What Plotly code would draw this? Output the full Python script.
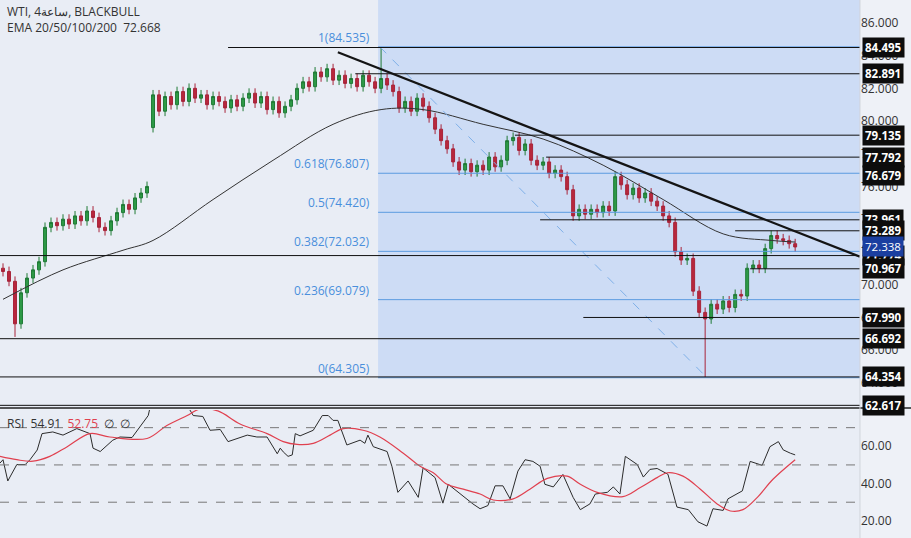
import plotly.graph_objects as go

# candle closes, one per 4h bar
closes = [70.8, 70.2, 67.6, 69.5, 70.4, 70.9, 71.4, 73.5, 73.8, 73.6,
          74.0, 73.7, 74.2, 73.9, 74.5, 74.1, 73.5, 73.3, 73.9, 74.4,
          74.9, 74.6, 75.3, 75.6, 76.0, 81.6, 80.6, 81.5, 81.0, 81.8,
          81.2, 82.0, 81.4, 81.6, 81.0, 81.5, 81.2, 80.8, 81.3, 80.9,
          81.4, 81.7, 81.1, 81.5, 80.7, 81.2, 80.5, 80.9, 81.3, 82.0,
          82.4, 82.1, 83.0, 82.7, 83.2, 82.5, 82.8, 82.3, 82.6, 82.1,
          82.8, 82.4, 82.0, 82.6, 82.2, 81.8, 80.8, 81.2, 80.6, 81.4,
          80.9, 80.2, 79.5, 78.8, 78.3, 77.5, 77.0, 77.4, 76.9, 77.3,
          77.0, 77.8, 77.2, 77.6, 78.8, 79.0, 78.2, 78.6, 77.6, 77.3,
          77.5, 76.8, 77.0, 76.6, 75.8, 74.2, 74.6, 74.3, 74.6, 74.4,
          74.8, 74.5, 76.6, 76.1, 75.5, 75.9, 75.3, 75.6, 75.1, 74.8,
          74.2, 73.8, 72.0, 71.5, 71.6, 69.6, 68.3, 67.9, 68.8, 68.5,
          69.0, 68.6, 69.4, 69.3, 71.0, 71.2, 71.0, 72.2, 73.0, 72.8,
          72.7, 72.5, 72.3]
gap_opens = {0: 71.0, 25: 79.6}
wick = 0.3
wick_highs = {63: 84.5, 25: 81.9}
wick_lows = {117: 64.35, 2: 66.8}

ema_bar = [0, 10, 20, 25, 35, 45, 55, 63, 70, 80, 90, 100, 110, 120, 128, 132]
ema_val = [69.1, 70.9, 72.1, 72.7, 75.2, 77.6, 79.8, 80.7, 80.7, 79.8, 78.9, 77.3, 75.2, 73.1, 72.7, 72.6]

rsi_bar = [-0.5, 0, 0.8, 2.3, 3.7, 4.5, 5.7, 6.5, 8.3, 10, 12.3, 14.5, 15, 16.2, 18.3, 19.5, 21.5, 22.8,
           24.2, 24.8, 27.8, 30.3, 31.7, 33.3, 34.5, 36.2, 37.5, 40.7, 42.3, 44, 44.8, 45.7, 46.2, 46.7,
           47.5, 48.2, 48.7, 49.5, 51.7, 53.2, 54.2, 55, 55.8, 57.3, 59.5, 60.3, 60.8, 61.7, 64, 64.8,
           65.8, 67.5, 69.2, 70, 72, 73.3, 74.2, 76.2, 78.3, 79.5, 80.8, 82, 83.3, 84.5, 85.8, 87, 88.3,
           89.5, 90.3, 91.7, 93.3, 95, 96.2, 97.8, 98.7, 100.7, 101.7, 102.8, 103.7, 105.7, 106.7, 107.8,
           109, 110.8, 112.3, 114.2, 115.8, 117.3, 118.3, 120, 120.8, 123.2, 124.5, 126.5, 127.8, 129.2,
           130, 131.2, 132]
rsi_val = [51, 52.8, 41.4, 50.2, 50.2, 52.8, 58, 66.8, 67.7, 66, 69.5, 66.8, 59, 57.2, 63.3, 65, 64.7, 70.4,
           76.5, 85, 88, 84, 76.5, 76, 68.6, 69, 62.5, 66, 65, 65, 60.7, 56, 59, 57,
           54.6, 55.4, 66.8, 65.6, 68.6, 76.5, 76.5, 73.9, 73.9, 60.7, 63.3, 61.6, 66, 59.8, 57.2, 49.3,
           35.3, 41.4, 32.6, 48.4, 43.2, 29.5, 39.6, 34.4, 29.1, 26.5, 28.2, 38.8, 38.8, 31.8, 46.7, 52.8, 51.9,
           49.3, 39.6, 38.2, 44.9, 32.6, 26, 29.1, 34.4, 35.3, 38.2, 34.4, 54.6, 50.2, 43.5, 47.6,
           48.1, 45, 27.4, 26, 19.5, 17.2, 26.5, 25.6, 31.8, 36.1, 51.9, 49.8, 59.8, 62.5,
           58.1, 56.3, 55.4]
rsi_ma_bar = [-0.5, 2.3, 5, 7.8, 10.7, 14.5, 17.8, 24, 27.3, 30.7, 32.8, 35.8, 39.5, 44, 46.7, 49, 51.7,
              54.5, 56.7, 60, 62.8, 66.7, 69.5, 71.7, 74, 76.7, 79.5, 81.7, 85, 87.8, 90.7, 94, 96.2, 99,
              103.3, 106.2, 109, 110.7, 113.3, 116.2, 119, 121.2, 123.3, 125.7, 128.3, 132]
rsi_ma_val = [54.6, 52.8, 52, 54.6, 59.8, 66.8, 65, 64.2, 71.2, 76.5, 80, 79, 72, 66.8, 62.5, 61, 61.6,
              66, 69.5, 68.6, 65, 56.3, 49.3, 45.8, 39.6, 37, 34.4, 31.2, 31.8, 37, 42.8, 44, 39.6, 35.3,
              33, 37.9, 43.2, 45.8, 44, 37, 29.1, 25.3, 26, 32.6, 42.3, 52.8]

fib_ratio = ["1", "0.618", "0.5", "0.382", "0.236", "0"]
fib_price = [84.535, 76.807, 74.420, 72.032, 69.079, 64.305]
# level, first bar of the line
levels = [84.495, 82.891, 79.135, 77.792, 76.679, 73.961, 73.289, 71.774, 70.967, 67.990, 66.692, 64.354, 62.617]
level_start = [37.5, 58.7, 85.3, 90.5, 143, 89.5, 122, -1, 124.5, 96.7, -1, -1, -1]
last_price = 72.338

bars = list(range(len(closes)))
opens = [gap_opens.get(i, closes[i - 1]) for i in bars]
highs = [wick_highs.get(i, max(o, c) + wick) for i, o, c in zip(bars, opens, closes)]
lows = [wick_lows.get(i, min(o, c) - wick) for i, o, c in zip(bars, opens, closes)]

XR = [-0.5, 142.8]
FONT = "Open Sans"
fig = go.Figure()

# fib zone
fig.add_shape(type="rect", x0=62.5, x1=XR[1], y0=fib_price[-1], y1=88, xref="x", yref="y",
              fillcolor="#cddcf5", line_width=0, layer="below")
for r, p in zip(fib_ratio, fib_price):
    fig.add_shape(type="line", x0=62.5, x1=XR[1], y0=p, y1=p, xref="x", yref="y",
                  line=dict(color="#5b9be0", width=1))
    fig.add_annotation(x=61.5, y=p, xref="x", yref="y", text=f"{r}({p:.3f})", showarrow=False,
                       xanchor="right", yanchor="bottom", yshift=-1,
                       font=dict(color="#4a8fdc", size=12, family=FONT))
fig.add_shape(type="line", x0=62.8, y0=fib_price[0], x1=117.3, y1=fib_price[-1], xref="x", yref="y",
              line=dict(color="#7fb0e8", width=1, dash="dash"))

for lv, st in zip(levels, level_start):
    if st < XR[1]:
        fig.add_shape(type="line", x0=st, x1=XR[1], y0=lv, y1=lv, xref="x", yref="y",
                      line=dict(color="#111111", width=1))
    fig.add_annotation(x=0.946, xref="paper", y=lv, yref="y", text=f"<b>{lv:.3f}</b>", showarrow=False,
                       xanchor="left", bgcolor="#0d0d0d", font=dict(color="white", size=11.5, family=FONT),
                       borderpad=2)
fig.add_annotation(x=0.946, xref="paper", y=last_price, yref="y", text=f"{last_price:.3f}", showarrow=False,
                   xanchor="left", bgcolor="#1b3fa0", font=dict(color="white", size=11.5, family=FONT),
                   borderpad=2)

# trend line
fig.add_shape(type="line", x0=55.8, y0=84.2, x1=XR[1], y1=71.7, xref="x", yref="y",
              line=dict(color="#141414", width=2.2))

fig.add_trace(go.Scatter(x=ema_bar, y=ema_val, mode="lines", line=dict(color="#333333", width=1, shape="spline"),
                         hoverinfo="skip"))
fig.add_trace(go.Candlestick(x=bars, open=opens, high=highs, low=lows, close=closes,
                             increasing=dict(line=dict(color="#1f7a35", width=1), fillcolor="#2e9a47"),
                             decreasing=dict(line=dict(color="#a8243a", width=1), fillcolor="#b8283d"),
                             whiskerwidth=0))

# RSI pane
for lv in [70, 50, 30]:
    fig.add_shape(type="line", x0=XR[0], x1=XR[1], y0=lv, y1=lv, xref="x2", yref="y2",
                  line=dict(color="#777777", width=1, dash="dash"))
fig.add_trace(go.Scatter(x=rsi_bar, y=rsi_val, mode="lines", line=dict(color="#2b2b2b", width=1),
                         xaxis="x2", yaxis="y2"))
fig.add_trace(go.Scatter(x=rsi_ma_bar, y=rsi_ma_val, mode="lines",
                         line=dict(color="#e0404f", width=1.2, shape="spline"), xaxis="x2", yaxis="y2"))
fig.add_shape(type="line", x0=0, x1=1, y0=0.2415, y1=0.2415, xref="paper", yref="paper",
              line=dict(color="#222222", width=1.5))

fig.add_annotation(x=0.006, y=0.998, xref="paper", yref="paper", showarrow=False, xanchor="left", yanchor="top",
                   align="left", text="WTI, 4ساعة, BLACKBULL<br>EMA 20/50/100/200  72.668",
                   font=dict(size=12, color="#333333", family=FONT))
fig.add_annotation(x=0.006, y=0.213, xref="paper", yref="paper", showarrow=False, xanchor="left", yanchor="middle",
                   text="RSI  54.91  <span style='color:#e0404f'>52.75</span>  ∅  ∅",
                   font=dict(size=12, color="#333333", family=FONT))

fig.update_layout(
    width=911, height=538, margin=dict(l=0, r=0, t=0, b=0),
    paper_bgcolor="#eef1f7", plot_bgcolor="#e9edf5", showlegend=False,
    xaxis=dict(domain=[0, 0.944], range=XR, visible=False, rangeslider=dict(visible=False)),
    xaxis2=dict(domain=[0, 0.944], range=XR, visible=False, anchor="y2"),
    yaxis=dict(domain=[0.2415, 1], range=[62.45, 87.4], side="right", dtick=2, tickformat=".3f",
               showgrid=False, zeroline=False, tickfont=dict(size=12, color="#333333", family=FONT),
               ticks="", anchor="x"),
    yaxis2=dict(domain=[0, 0.238], range=[10.8, 79.5], side="right", tickvals=[20, 40, 60], tickformat=".2f",
                showgrid=False, zeroline=False, tickfont=dict(size=12, color="#333333", family=FONT),
                ticks="", anchor="x2"),
)
fig.add_shape(type="line", x0=0.944, x1=0.944, y0=0, y1=1, xref="paper", yref="paper",
              line=dict(color="#d0d4dc", width=1))

fig.write_html("out.html", config={"displayModeBar": False},
               post_script="document.body.style.margin='0';")
